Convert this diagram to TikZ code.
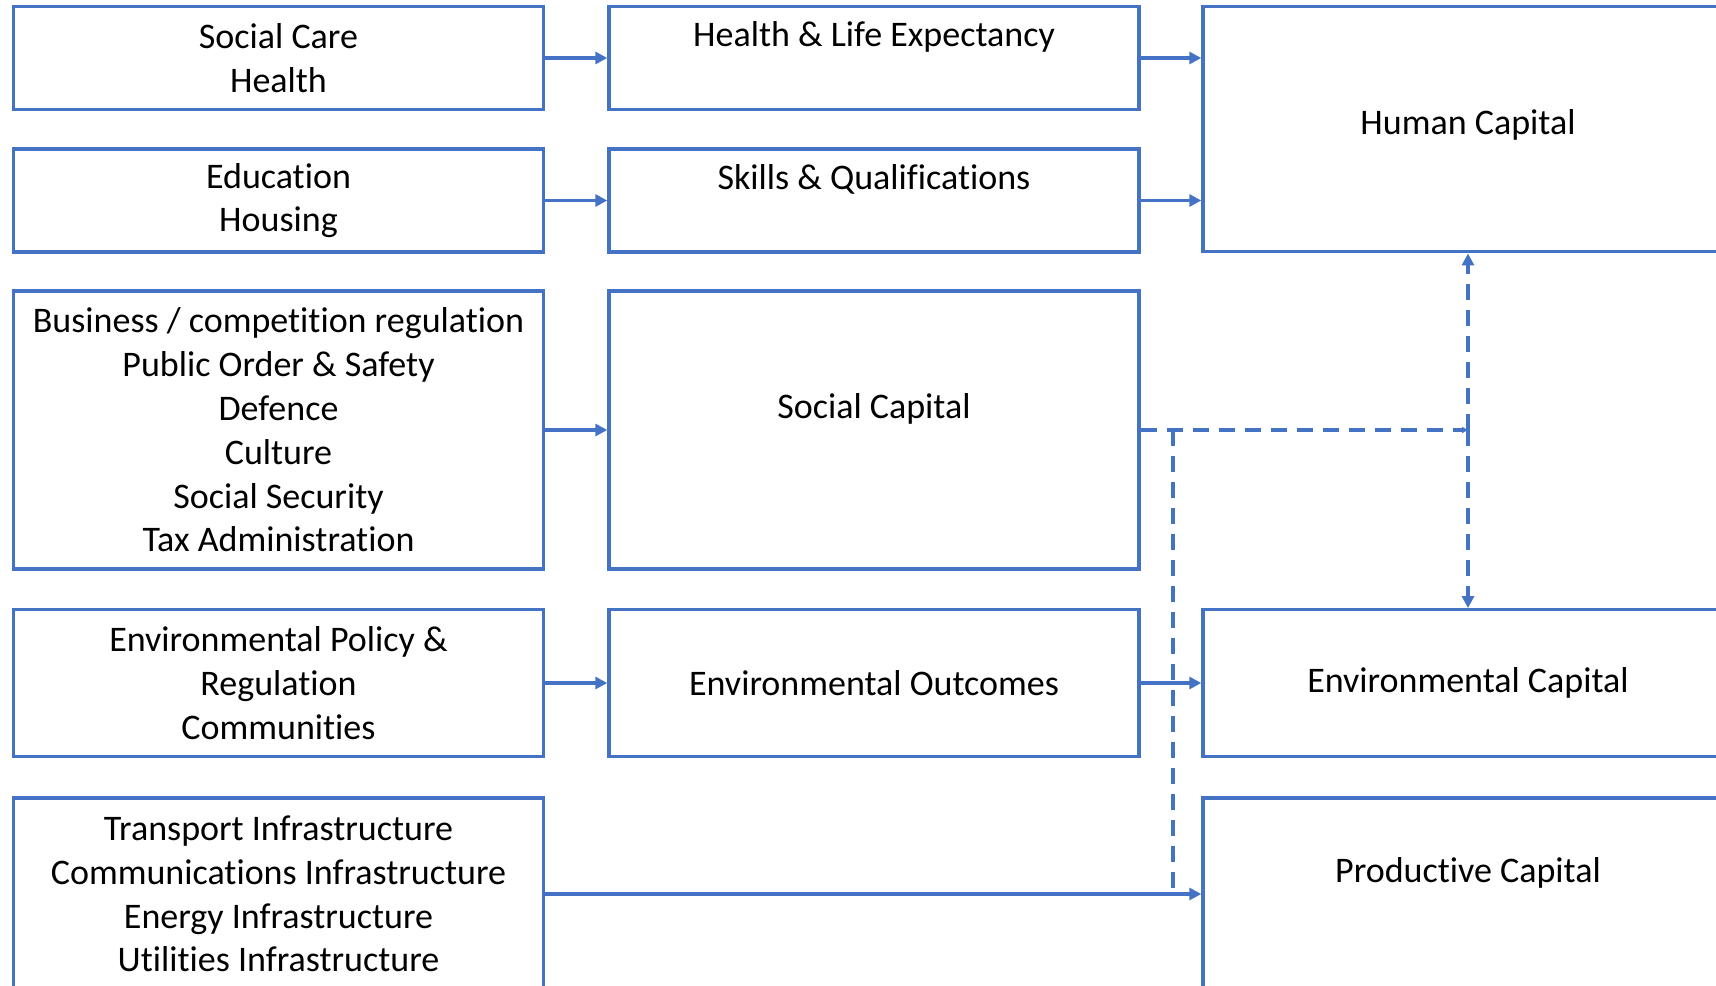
\documentclass[tikz,border=0pt]{standalone}
\usepackage{fontspec}
\setmainfont{Carlito}[Ligatures=NoCommon]
\usetikzlibrary{arrows.meta,positioning}
\definecolor{boxblue}{RGB}{68,114,196}

\begin{document}
\begin{tikzpicture}[x=0.5pt,y=-0.5pt,
		box/.style={draw=boxblue, line width=1.7pt, minimum width=265pt, align=center,
			inner sep=0pt, font=\fontsize{18}{21.9}\selectfont},
		txt/.style={inner sep=0pt, font=\fontsize{18}{21.9}\selectfont},
		arr/.style={draw=boxblue, line width=1.8pt, -{Triangle[length=6pt,width=6pt]}},
		dashline/.style={draw=boxblue, line width=1.8pt, dash pattern=on 8pt off 5pt},
		dasharr/.style={arr, dash pattern=on 8pt off 5pt}]
			\useasboundingbox (0,0) rectangle (1716,985);
			% row 1 and 2
			\node[box, minimum height=51.5pt] (care) at (278.5,58) {Social Care\\Health};
			\node[box, minimum height=51.5pt] (hlth) at (874,58) {};
			\node[txt] (hlthT) at ([yshift=-16pt]hlth.north) {Health \& Life Expectancy};
			\node[box, minimum height=51.5pt] (educ) at (278.5,200.5) {Education\\Housing};
			\node[box, minimum height=51.5pt] (skil) at (874,200.5) {};
			\node[txt] (skilT) at ([yshift=-16pt]skil.north) {Skills \& Qualifications};
			\node[box, minimum height=122.75pt] (hum) at (1468,129) {};
			\node[txt] (humT) at ([yshift=-60pt]hum.north) {Human Capital};
			% row 3
			\node[box, minimum height=139pt] (busi) at (278.5,430)
				{Business / competition regulation\\Public Order \& Safety\\Defence\\Culture\\Social Security\\Tax Administration};
			\node[box, minimum height=139pt] (soc) at (874,430) {};
			\node[txt] (socT) at ([yshift=-60pt]soc.north) {Social Capital};
			% row 4
			\node[box, minimum height=73.25pt] (envp) at (278.5,683) {Environmental Policy \&\\Regulation\\Communities};
			\node[box, minimum height=73.25pt] (envo) at (874,683) {Environmental Outcomes};
			\node[box, minimum height=73.25pt] (envc) at (1468,683) {Environmental Capital};
			% row 5
			\node[box, minimum height=96pt] (infra) at (278.5,894)
				{Transport Infrastructure\\Communications Infrastructure\\Energy Infrastructure\\Utilities Infrastructure};
			\node[box, minimum height=96pt] (prod) at (1468,894) {};
			\node[txt] (prodT) at ([yshift=-38.5pt]prod.north) {Productive Capital};
			% solid arrows
			\draw[arr] (care) -- (hlth);
			\draw[arr] (educ) -- (skil);
			\draw[arr] (hlth.east) -- (hlth.east -| hum.west);
			\draw[arr] (skil.east) -- (skil.east -| hum.west);
			\draw[arr] (busi) -- (soc);
			\draw[arr] (envp) -- (envo);
			\draw[arr] (envo) -- (envc);
			\draw[arr] (infra.east) -- (infra.east -| prod.west);
			% dashed links from social capital
			\coordinate (jn) at (hum.south |- soc.east);
			\coordinate (bend) at ([xshift=16pt]soc.east);
			\draw[dasharr, -{Triangle[length=3pt,width=3pt]}] (soc.east) -- (jn);
			\draw[dasharr] (jn) -- (hum.south);
			\draw[dasharr] (jn) -- (envc.north);
			\draw[dashline] (bend) -- (bend |- infra.east);
		\end{tikzpicture}
\end{document}
